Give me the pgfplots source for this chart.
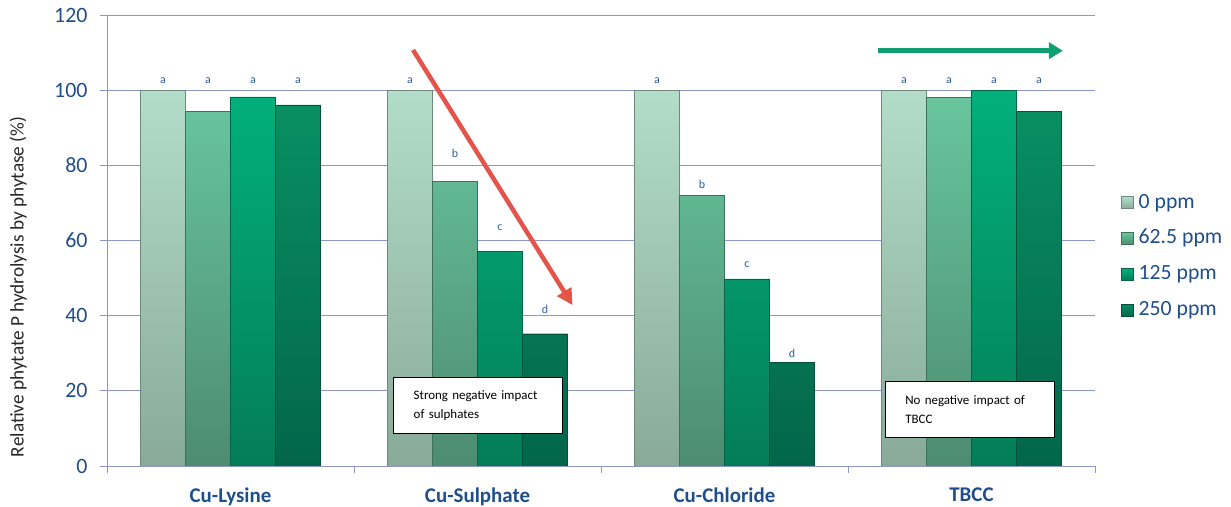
\documentclass[border=0pt]{standalone}
\usepackage{fontspec}
\setmainfont{Carlito}
\usepackage{pgfplots}
\usepackage{pgfplotstable}
\pgfplotsset{compat=1.18}
\usetikzlibrary{arrows.meta}

\definecolor{gridc}{RGB}{140,150,200}
\definecolor{navy}{RGB}{31,78,140}
\definecolor{letc}{RGB}{46,95,160}
\definecolor{labc}{RGB}{38,38,38}
\definecolor{c0t}{RGB}{178,221,201}
\definecolor{c0b}{RGB}{137,170,153}
\definecolor{c1t}{RGB}{104,197,158}
\definecolor{c1b}{RGB}{77,140,113}
\definecolor{c2t}{RGB}{2,176,124}
\definecolor{c2b}{RGB}{4,125,87}
\definecolor{c3t}{RGB}{8,143,98}
\definecolor{c3b}{RGB}{3,102,74}
\definecolor{redarr}{RGB}{228,84,75}
\definecolor{greenarr}{RGB}{16,158,115}

\pgfplotstableread{
x y0 y1 y2 y3
0 100 94.3 98.2 96.1
1 100 75.8 57.2 35.2
2 100 72.1 49.8 27.6
3 100 98.0 99.9 94.3
}\datatable

\pgfplotstableread{
x y lab
-0.273 102.5 a
-0.091 102.5 a
0.091 102.5 a
0.273 102.5 a
0.727 102.5 a
0.909 83.1 b
1.091 63.5 c
1.273 41.6 d
1.727 102.5 a
1.909 75.0 b
2.091 53.6 c
2.273 29.9 d
2.727 102.5 a
2.909 102.5 a
3.091 102.5 a
3.273 102.5 a
}\lettertable

\pgfplotsset{
  mybar/.style={ybar, bar width=45bp,
    legend image code/.code={\draw[##1, line width=0.5bp] (0bp,-6bp) rectangle (12bp,6bp);}},
}

\begin{document}
\begin{tikzpicture}
\path[use as bounding box] (-107bp,-41bp) rectangle (1124bp,466bp);
\begin{axis}[
  scale only axis,
  width=988bp, height=451bp,
  xmin=-0.5, xmax=3.5, ymin=0, ymax=120,
  ytick={0,20,...,120},
  ymajorgrids,
  grid style={gridc, line width=0.8bp},
  xtick={0,1,2,3},
  xticklabels={Cu-Lysine,Cu-Sulphate,Cu-Chloride,TBCC},
  minor xtick={-0.5,0.5,1.5,2.5,3.5},
  axis x line*=bottom, axis y line*=left,
  axis line style={gridc, line width=0.8bp, -},
  tick align=outside, major tick length=7bp, minor tick length=7bp,
  tick style={gridc, line width=0.8bp},
  major x tick style={draw=none},
  /pgf/number format/assume math mode=true,
  y tick label style={font=\fontsize{22}{22}\selectfont, text=navy, xshift=-9bp},
  x tick label style={font=\bfseries\fontsize{21}{21}\selectfont, text=navy, yshift=-11bp},
  ylabel={Relative phytate P hydrolysis by phytase (\%)},
  ylabel style={font=\fontsize{19.3}{19.3}\selectfont, text=labc, at={(axis description cs:-0.090,0.397)}, anchor=center},
  legend style={at={(1.0233,0.612)}, anchor=north west, draw=none, fill=none,
    font=\fontsize{21.8}{21.8}\selectfont, text=navy, row sep=14.8bp, column sep=4bp,
    nodes={inner sep=1bp, text height=15bp, text depth=4bp}},
  legend cell align=left,
]
\addplot[mybar, bar shift=-67.5bp, top color=c0t, bottom color=c0b, draw=c0b!80!black] table[x=x,y=y0]{\datatable};
\addplot[mybar, bar shift=-22.5bp, top color=c1t, bottom color=c1b, draw=c1b!80!black] table[x=x,y=y1]{\datatable};
\addplot[mybar, bar shift=22.5bp, top color=c2t, bottom color=c2b, draw=c2b!80!black] table[x=x,y=y2]{\datatable};
\addplot[mybar, bar shift=67.5bp, top color=c3t, bottom color=c3b, draw=c3b!80!black] table[x=x,y=y3]{\datatable};
\legend{0 ppm, 62.5 ppm, 125 ppm, 250 ppm}

\addplot[draw=none, mark=none, forget plot, nodes near coords, point meta=explicit symbolic,
  nodes near coords style={anchor=center, font=\fontsize{12}{12}\selectfont, text=letc, inner sep=0pt}]
  table[x=x,y=y,meta=lab]{\lettertable};

\draw[redarr, line width=4.5bp, -{Triangle[length=16bp, width=16bp]}] (axis cs:0.739,110.7) -- (axis cs:1.385,42.8);
\draw[greenarr, line width=5bp, -{Triangle[length=14bp, width=16bp]}] (axis cs:2.621,110.5) -- (axis cs:3.370,110.5);

\node[draw=black, line width=1.1bp, fill=white, minimum width=169bp, minimum height=56bp,
  text width=129bp, align=left, inner xsep=20bp, font=\fontsize{13}{19}\selectfont]
  at (axis cs:1.003,16.0) {Strong negative impact\\of sulphates};
\node[draw=black, line width=1.1bp, fill=white, minimum width=169bp, minimum height=56bp,
  text width=129bp, align=left, inner xsep=20bp, font=\fontsize{13}{19}\selectfont]
  at (axis cs:2.993,15.0) {No negative impact of\\TBCC};
\end{axis}
\end{tikzpicture}
\end{document}
